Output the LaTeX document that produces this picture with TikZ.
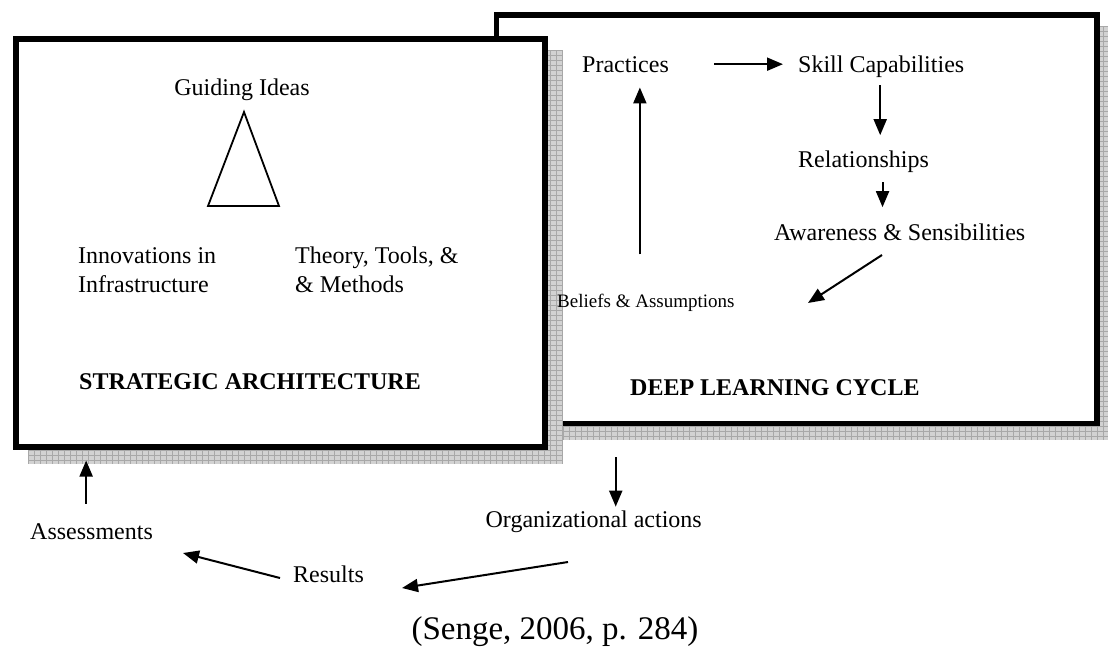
\documentclass[tikz,border=0pt]{standalone}
\usepackage{fontspec}
\setmainfont{Liberation Serif}
\usetikzlibrary{arrows.meta}
\definecolor{shfill}{HTML}{D2D2D2}
\definecolor{shline}{HTML}{A8A8A8}
\begin{document}
\begin{tikzpicture}[x=1pt,y=-1pt,
  txt/.style={font=\fontsize{24}{29}\selectfont, inner sep=0pt, align=left},
  small/.style={font=\fontsize{19}{22}\selectfont, inner sep=0pt},
  heading/.style={font=\fontsize{24}{29}\selectfont\bfseries, inner sep=0pt},
  caption/.style={font=\fontsize{33}{38}\selectfont, inner sep=0pt},
  frame/.style={draw=black, line width=5.5pt, fill=white, inner sep=0pt, outer sep=0pt},
  arr/.style={line width=2pt, -{Triangle[length=16pt,width=13pt]}},
  gridline/.style={shline, line width=0.8pt},
]
\useasboundingbox (0,0) rectangle (1108,654);

% shadow of the right frame
\begin{scope}
  \clip (509,26) rectangle (1115,440);
  \fill[shfill] (509,26) rectangle (1115,440);
  \foreach \gx in {509,515,...,1115} \draw[gridline] (\gx,26) -- (\gx,440);
  \foreach \gy in {26,31,...,440} \draw[gridline] (509,\gy) -- (1115,\gy);
\end{scope}
\node[frame, minimum width=600.5pt, minimum height=408.5pt] (rbox) at (796.75,219.25) {};

% shadow of the left frame
\begin{scope}
  \clip (28,50) rectangle (563,464);
  \fill[shfill] (28,50) rectangle (563,464);
  \foreach \gx in {28,34,...,563} \draw[gridline] (\gx,50) -- (\gx,464);
  \foreach \gy in {50,55,...,464} \draw[gridline] (28,\gy) -- (563,\gy);
\end{scope}
\node[frame, minimum width=529pt, minimum height=408pt] (lbox) at (280.5,243) {};

% left frame content
\node[txt, anchor=base] (guide) at (242,95) {Guiding Ideas};
\draw[line width=1.8pt, line join=miter] (244,112) -- (208,206) -- (279,206) -- cycle;
\node[txt, anchor=base west] (innov) at (78,292) {Innovations in\\Infrastructure};
\node[txt, anchor=base west] (theory) at (295,292) {Theory, Tools, \&\\\& Methods};
\node[heading, anchor=base west] (strat) at (79,389) {STRATEGIC ARCHITECTURE};

% right frame content
\node[txt, anchor=base west] (practices) at (582,72) {Practices};
\node[txt, anchor=base west] (skill) at (798,72) {Skill Capabilities};
\node[txt, anchor=base west] (rel) at (798,167) {Relationships};
\node[txt, anchor=base west] (aware) at (774,240) {Awareness \& Sensibilities};
\node[small, anchor=base west] (beliefs) at (557,307) {Beliefs \& Assumptions};
\node[heading, anchor=base west] (deep) at (630,395) {DEEP LEARNING CYCLE};

% outside
\node[txt, anchor=base east] (org) at (702,527) {Organizational actions};
\node[txt, anchor=base west] (assess) at (30,539) {Assessments};
\node[txt, anchor=base west] (results) at (293,582) {Results};
\node[caption, anchor=base] (senge) at (555,639) {(Senge, 2006, p. 284)};

% free arrow ends
\coordinate (a1) at (882,255);
\coordinate (a2) at (808,303);
\coordinate (o1) at (568,562);
\coordinate (o2) at (402,588);
\coordinate (r1) at (280,578);
\coordinate (r2) at (183,553);

% connectors
\draw[arr, shorten <=45pt, shorten >=15pt] (practices.east) -- (practices.east -| skill.west);
\draw[arr, shorten <=8pt, shorten >=15pt] ([xshift=-1pt]skill.south) -- ([xshift=-1pt]skill.south |- rel.north);
\draw[arr, shorten <=10pt, shorten >=16pt] ([xshift=19pt]rel.south) -- ([xshift=19pt]rel.south |- aware.north);
\draw[arr] (a1) -- (a2);
\draw[arr, shorten <=39pt, shorten >=15pt] ([xshift=-6pt]beliefs.north) -- ([xshift=-6pt]beliefs.north |- practices.south);
\draw[arr, shorten <=33.5pt, shorten >=3.5pt] ([xshift=22pt]org.north |- rbox.south) -- ([xshift=22pt]org.north);
\draw[arr] (o1) -- (o2);
\draw[arr] (r1) -- (r2);
\draw[arr, shorten <=19pt, shorten >=13.5pt] ([xshift=-5.4pt]assess.north) -- ([xshift=-5.4pt]assess.north |- lbox.south);
\end{tikzpicture}
\end{document}
